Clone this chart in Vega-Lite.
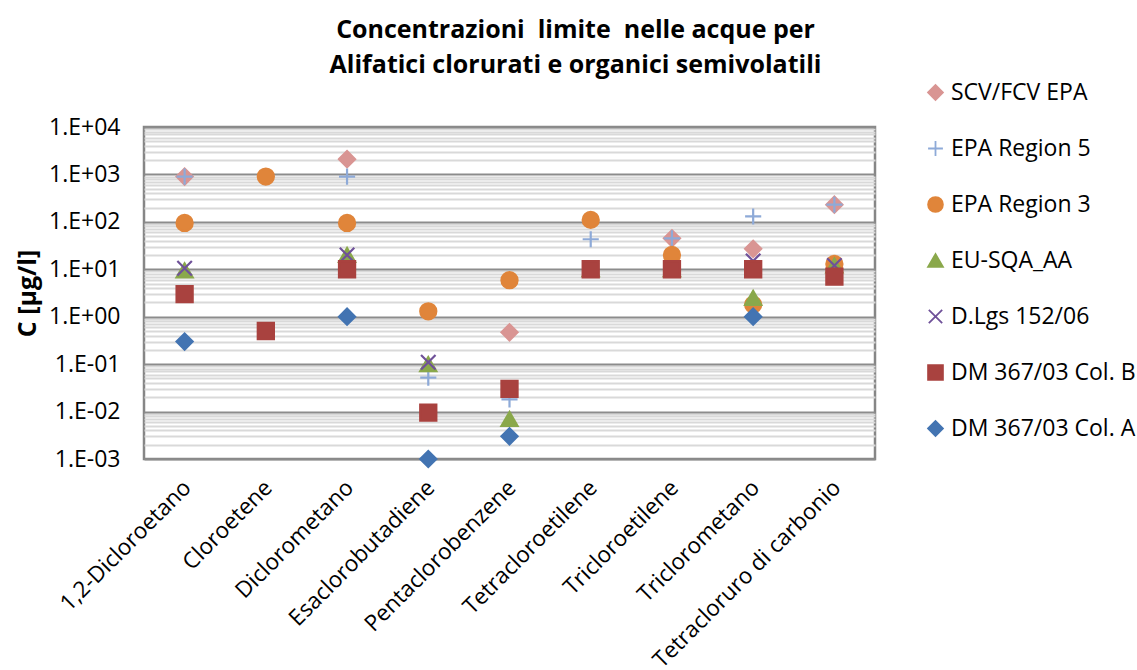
{
  "$schema": "https://vega.github.io/schema/vega-lite/v6.json",
  "width": 731,
  "height": 332,
  "autosize": {"type": "none"},
  "padding": {"left": 144, "top": 127, "right": 262, "bottom": 211},
  "background": "white",
  "config": {
    "font": "Open Sans",
    "view": {"stroke": "#868686", "strokeWidth": 2.5},
    "legend": {
      "title": null,
      "orient": "none",
      "legendX": 780,
      "legendY": -46,
      "labelFontSize": 23,
      "labelColor": "black",
      "labelFont": "Open Sans",
      "labelLimit": 400,
      "rowPadding": 32,
      "symbolSize": 220,
      "labelOffset": 4,
      "symbolStrokeWidth": 1.8
    }
  },
  "title": {
    "text": ["Concentrazioni\u00a0 limite\u00a0 nelle acque per", "Alifatici clorurati e organici semivolatili"],
    "fontSize": 25,
    "fontWeight": "bold",
    "font": "Open Sans",
    "color": "black",
    "lineHeight": 35,
    "anchor": "middle",
    "frame": "group",
    "dx": 66,
    "offset": 3
  },
  "data": {
    "values": [
      {"c": "1,2-Dicloroetano", "s": "SCV/FCV EPA", "v": 900},
      {"c": "1,2-Dicloroetano", "s": "EPA Region 5", "v": 900},
      {"c": "1,2-Dicloroetano", "s": "EPA Region 3", "v": 95},
      {"c": "1,2-Dicloroetano", "s": "EU-SQA_AA", "v": 9.5},
      {"c": "1,2-Dicloroetano", "s": "D.Lgs 152/06", "v": 10.5},
      {"c": "1,2-Dicloroetano", "s": "DM 367/03 Col. B", "v": 3},
      {"c": "1,2-Dicloroetano", "s": "DM 367/03 Col. A", "v": 0.3},
      {"c": "Cloroetene", "s": "EPA Region 3", "v": 900},
      {"c": "Cloroetene", "s": "D.Lgs 152/06", "v": 0.5},
      {"c": "Cloroetene", "s": "DM 367/03 Col. B", "v": 0.5},
      {"c": "Diclorometano", "s": "SCV/FCV EPA", "v": 2100},
      {"c": "Diclorometano", "s": "EPA Region 5", "v": 900},
      {"c": "Diclorometano", "s": "EPA Region 3", "v": 95},
      {"c": "Diclorometano", "s": "EU-SQA_AA", "v": 20},
      {"c": "Diclorometano", "s": "D.Lgs 152/06", "v": 20},
      {"c": "Diclorometano", "s": "DM 367/03 Col. B", "v": 10},
      {"c": "Diclorometano", "s": "DM 367/03 Col. A", "v": 1},
      {"c": "Esaclorobutadiene", "s": "EPA Region 5", "v": 0.052},
      {"c": "Esaclorobutadiene", "s": "EPA Region 3", "v": 1.3},
      {"c": "Esaclorobutadiene", "s": "EU-SQA_AA", "v": 0.1},
      {"c": "Esaclorobutadiene", "s": "D.Lgs 152/06", "v": 0.11},
      {"c": "Esaclorobutadiene", "s": "DM 367/03 Col. B", "v": 0.0095},
      {"c": "Esaclorobutadiene", "s": "DM 367/03 Col. A", "v": 0.001},
      {"c": "Pentaclorobenzene", "s": "SCV/FCV EPA", "v": 0.47},
      {"c": "Pentaclorobenzene", "s": "EPA Region 5", "v": 0.018},
      {"c": "Pentaclorobenzene", "s": "EPA Region 3", "v": 5.9},
      {"c": "Pentaclorobenzene", "s": "EU-SQA_AA", "v": 0.007},
      {"c": "Pentaclorobenzene", "s": "DM 367/03 Col. B", "v": 0.03},
      {"c": "Pentaclorobenzene", "s": "DM 367/03 Col. A", "v": 0.003},
      {"c": "Tetracloroetilene", "s": "EPA Region 5", "v": 43},
      {"c": "Tetracloroetilene", "s": "EPA Region 3", "v": 110},
      {"c": "Tetracloroetilene", "s": "EU-SQA_AA", "v": 10},
      {"c": "Tetracloroetilene", "s": "D.Lgs 152/06", "v": 10},
      {"c": "Tetracloroetilene", "s": "DM 367/03 Col. B", "v": 10},
      {"c": "Tricloroetilene", "s": "SCV/FCV EPA", "v": 45},
      {"c": "Tricloroetilene", "s": "EPA Region 5", "v": 45},
      {"c": "Tricloroetilene", "s": "EPA Region 3", "v": 20},
      {"c": "Tricloroetilene", "s": "EU-SQA_AA", "v": 10},
      {"c": "Tricloroetilene", "s": "D.Lgs 152/06", "v": 10},
      {"c": "Tricloroetilene", "s": "DM 367/03 Col. B", "v": 10},
      {"c": "Triclorometano", "s": "SCV/FCV EPA", "v": 27},
      {"c": "Triclorometano", "s": "EPA Region 5", "v": 130},
      {"c": "Triclorometano", "s": "EPA Region 3", "v": 1.8},
      {"c": "Triclorometano", "s": "EU-SQA_AA", "v": 2.5},
      {"c": "Triclorometano", "s": "D.Lgs 152/06", "v": 15},
      {"c": "Triclorometano", "s": "DM 367/03 Col. B", "v": 10},
      {"c": "Triclorometano", "s": "DM 367/03 Col. A", "v": 1},
      {"c": "Tetracloruro di carbonio", "s": "SCV/FCV EPA", "v": 230},
      {"c": "Tetracloruro di carbonio", "s": "EPA Region 5", "v": 230},
      {"c": "Tetracloruro di carbonio", "s": "EPA Region 3", "v": 13},
      {"c": "Tetracloruro di carbonio", "s": "EU-SQA_AA", "v": 12},
      {"c": "Tetracloruro di carbonio", "s": "D.Lgs 152/06", "v": 12},
      {"c": "Tetracloruro di carbonio", "s": "DM 367/03 Col. B", "v": 7}
    ]
  },
  "mark": {"type": "point", "filled": true, "size": 260, "strokeWidth": 2.2, "opacity": 1},
  "encoding": {
    "x": {
      "field": "c",
      "type": "nominal",
      "sort": null,
      "scale": {"type": "band", "paddingInner": 0, "paddingOuter": 0},
      "axis": {
        "title": null,
        "labelAngle": -45,
        "labelAlign": "right",
        "labelBaseline": "top",
        "labelFontSize": 22.5,
        "labelColor": "black",
        "labelPadding": 17,
        "labelOffset": -5,
        "ticks": false,
        "domain": false,
        "grid": false,
        "labelLimit": 400
      }
    },
    "y": {
      "field": "v",
      "type": "quantitative",
      "scale": {"type": "log", "domain": [0.001, 10000], "nice": false},
      "axis": {
        "title": "C [µg/l]",
        "titleFontSize": 25,
        "titleFontWeight": "bold",
        "titleColor": "black",
        "titlePadding": 8,
        "values": [0.001,0.002,0.003,0.004,0.005,0.006,0.007,0.008,0.009,0.01,0.02,0.03,0.04,0.05,0.06,0.07,0.08,0.09,0.1,0.2,0.3,0.4,0.5,0.6,0.7,0.8,0.9,1,2,3,4,5,6,7,8,9,10,20,30,40,50,60,70,80,90,100,200,300,400,500,600,700,800,900,1000,2000,3000,4000,5000,6000,7000,8000,9000,10000],
        "labelExpr": "abs(log(datum.value)/LN10 - round(log(datum.value)/LN10)) < 0.000001 ? '1.E' + (round(log(datum.value)/LN10) >= 0 ? '+' : '-') + (abs(round(log(datum.value)/LN10)) < 10 ? '0' : '') + abs(round(log(datum.value)/LN10)) : ''",
        "labelFontSize": 23,
        "labelColor": "black",
        "labelPadding": 24,
        "ticks": false,
        "domain": false,
        "grid": true,
        "gridColor": {
          "condition": {"test": "abs(log(datum.value)/LN10 - round(log(datum.value)/LN10)) < 0.000001", "value": "#8c8c8c"},
          "value": "#d9d9d9"
        },
        "gridWidth": 2,
        "labelOverlap": false
      }
    },
    "fill": {
      "field": "s",
      "type": "nominal",
      "scale": {
        "domain": ["SCV/FCV EPA", "EPA Region 5", "EPA Region 3", "EU-SQA_AA", "D.Lgs 152/06", "DM 367/03 Col. B", "DM 367/03 Col. A"],
        "range": ["#d99593", "transparent", "#e0853a", "#8aa84b", "transparent", "#a9423f", "#4374b2"]
      }
    },
    "stroke": {
      "field": "s",
      "type": "nominal",
      "scale": {
        "domain": ["SCV/FCV EPA", "EPA Region 5", "EPA Region 3", "EU-SQA_AA", "D.Lgs 152/06", "DM 367/03 Col. B", "DM 367/03 Col. A"],
        "range": ["#d99593", "#8eaad8", "#e0853a", "#8aa84b", "#6f5199", "#a9423f", "#4374b2"]
      }
    },
    "shape": {
      "field": "s",
      "type": "nominal",
      "scale": {
        "domain": ["SCV/FCV EPA", "EPA Region 5", "EPA Region 3", "EU-SQA_AA", "D.Lgs 152/06", "DM 367/03 Col. B", "DM 367/03 Col. A"],
        "range": ["diamond", "M-1,0H1M0,-1V1", "circle", "triangle-up", "M-0.9,-0.9L0.9,0.9M-0.9,0.9L0.9,-0.9", "square", "diamond"]
      }
    }
  }
}
